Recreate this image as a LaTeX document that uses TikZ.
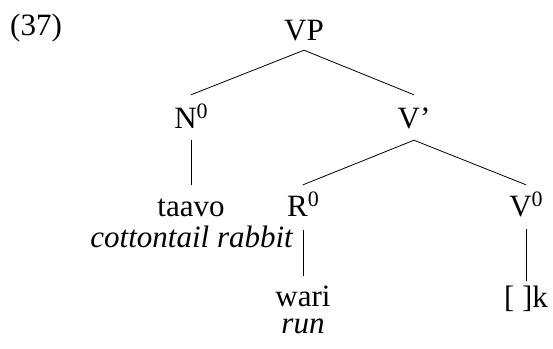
\documentclass[tikz,border=0pt]{standalone}
\usepackage{fontspec}
\setmainfont{Liberation Serif}
\newcommand{\zsup}[1]{\raisebox{10pt}{\fontsize{22}{22}\selectfont #1}}
\begin{document}
\begin{tikzpicture}[x=1pt,y=-1pt,
  lbl/.style={font=\fontsize{31}{37}\selectfont, inner sep=0pt, text height=22pt, text depth=0pt, anchor=base},
  gloss/.style={lbl, font=\fontsize{31}{37}\selectfont\itshape, text height=15pt},
  edge/.style={line width=0.8pt}]
\useasboundingbox (0,0) rectangle (553,348);
\node[lbl, anchor=base west] (ex) at (10,35) {(37)};
\node[lbl] (vp) at (304,40) {VP};
\node[lbl] (n0) at (191,128) {N\zsup{0}};
\node[lbl] (vbar) at (414,128) {V’};
\node[lbl] (taavo) at (191,216) {taavo};
\node[gloss, anchor=base east] (rabbit) at (293,247) {cottontail rabbit};
\node[lbl] (r0) at (303,216) {R\zsup{0}};
\node[lbl] (v0) at (526,216) {V\zsup{0}};
\node[lbl] (wari) at (303,306) {wari};
\node[gloss] (run) at (303,333) {run};
\node[lbl] (k) at (526,307) {{[}\ {]}k};
\draw[edge] ([yshift=-10pt]vp.south) -- ([yshift=11pt]n0.north);
\draw[edge] ([yshift=-10pt]vp.south) -- ([yshift=11pt]vbar.north);
\draw[edge] ([yshift=-12pt]n0.south) -- ([yshift=9pt]taavo.north);
\draw[edge] ([yshift=-12pt]vbar.south) -- ([yshift=9pt]r0.north);
\draw[edge] ([yshift=-12pt]vbar.south) -- ([yshift=9pt]v0.north);
\draw[edge] ([yshift=-14pt]r0.south) -- ([yshift=8pt]wari.north);
\draw[edge] ([yshift=-13pt]v0.south) -- ([yshift=4pt]k.north);
\end{tikzpicture}
\end{document}
